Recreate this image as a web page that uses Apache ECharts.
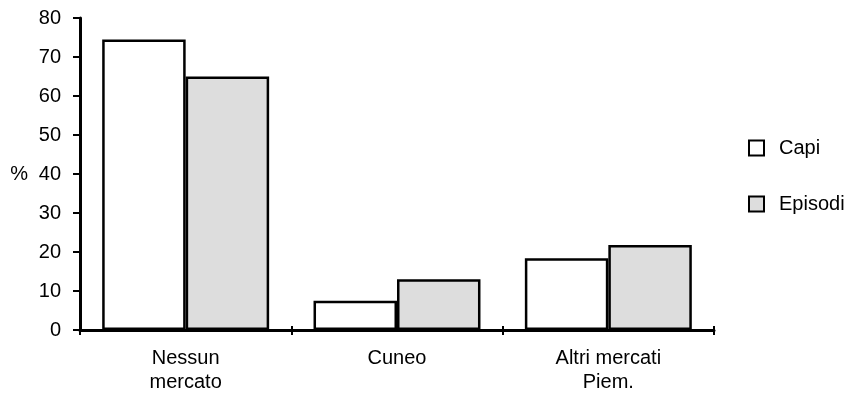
<!DOCTYPE html>
<html><head><meta charset="utf-8">
<script src="https://cdn.jsdelivr.net/npm/echarts@6/dist/echarts.min.js"></script>
<style>html,body{margin:0;padding:0;background:#fff}#c{width:852px;height:399px}</style>
</head><body><div id="c"></div>
<script>
const categories = ['Nessun\nmercato', 'Cuneo', 'Altri mercati\nPiem.'];
const capi = [74.5, 7.5, 18.4];
const episodi = [65, 13, 21.8];
const yTicks = [0, 10, 20, 30, 40, 50, 60, 70, 80];

const chart = echarts.init(document.getElementById('c'));
const font = 'Liberation Sans, Arial, sans-serif';
chart.setOption({
  animation: false,
  grid: { left: 80, right: 138, top: 18, bottom: 69 },
  legend: {
    orient: 'vertical', left: 743, top: 133, itemWidth: 15, itemHeight: 15, itemGap: 36,
    textStyle: { fontFamily: font, fontSize: 20, color: '#000', padding: [0,0,0,10] },
    data: [{name:'Capi', icon:'rect'}, {name:'Episodi', icon:'rect'}]
  },
  xAxis: [{
    type: 'category', data: categories,
    axisLine: { lineStyle: { color: '#000', width: 3 } },
    axisTick: { show: true, length: 5, lineStyle: { color: '#000', width: 2 } },
    axisLabel: { fontFamily: font, fontSize: 20, color: '#000', margin: 16, lineHeight: 24 }
  }, {
    type: 'category', data: categories, position: 'bottom', gridIndex: 0,
    axisLine: { show: false },
    axisTick: { show: true, inside: true, length: 4, lineStyle: { color: '#000', width: 2 } },
    axisLabel: { show: false }
  }],
  yAxis: {
    type: 'value', min: yTicks[0], max: yTicks[yTicks.length-1], interval: 10,
    name: '%', nameLocation: 'middle', nameRotate: 0, nameGap: 52,
    nameTextStyle: { fontFamily: font, fontSize: 20, color: '#000' },
    axisLine: { show: true, lineStyle: { color: '#000', width: 3 } },
    axisTick: { show: true, length: 7, lineStyle: { color: '#000', width: 2 } },
    axisLabel: { fontFamily: font, fontSize: 20, color: '#000', margin: 19 },
    splitLine: { show: false }
  },
  series: [{
    name: 'Capi', type: 'bar', data: capi, barGap: '0%', barCategoryGap: '21%',
    itemStyle: { color: '#fff', borderColor: '#000', borderWidth: 2.5 }
  }, {
    name: 'Episodi', type: 'bar', data: episodi,
    itemStyle: { color: '#dddddd', borderColor: '#000', borderWidth: 2.5 }
  }]
});
</script></body></html>
